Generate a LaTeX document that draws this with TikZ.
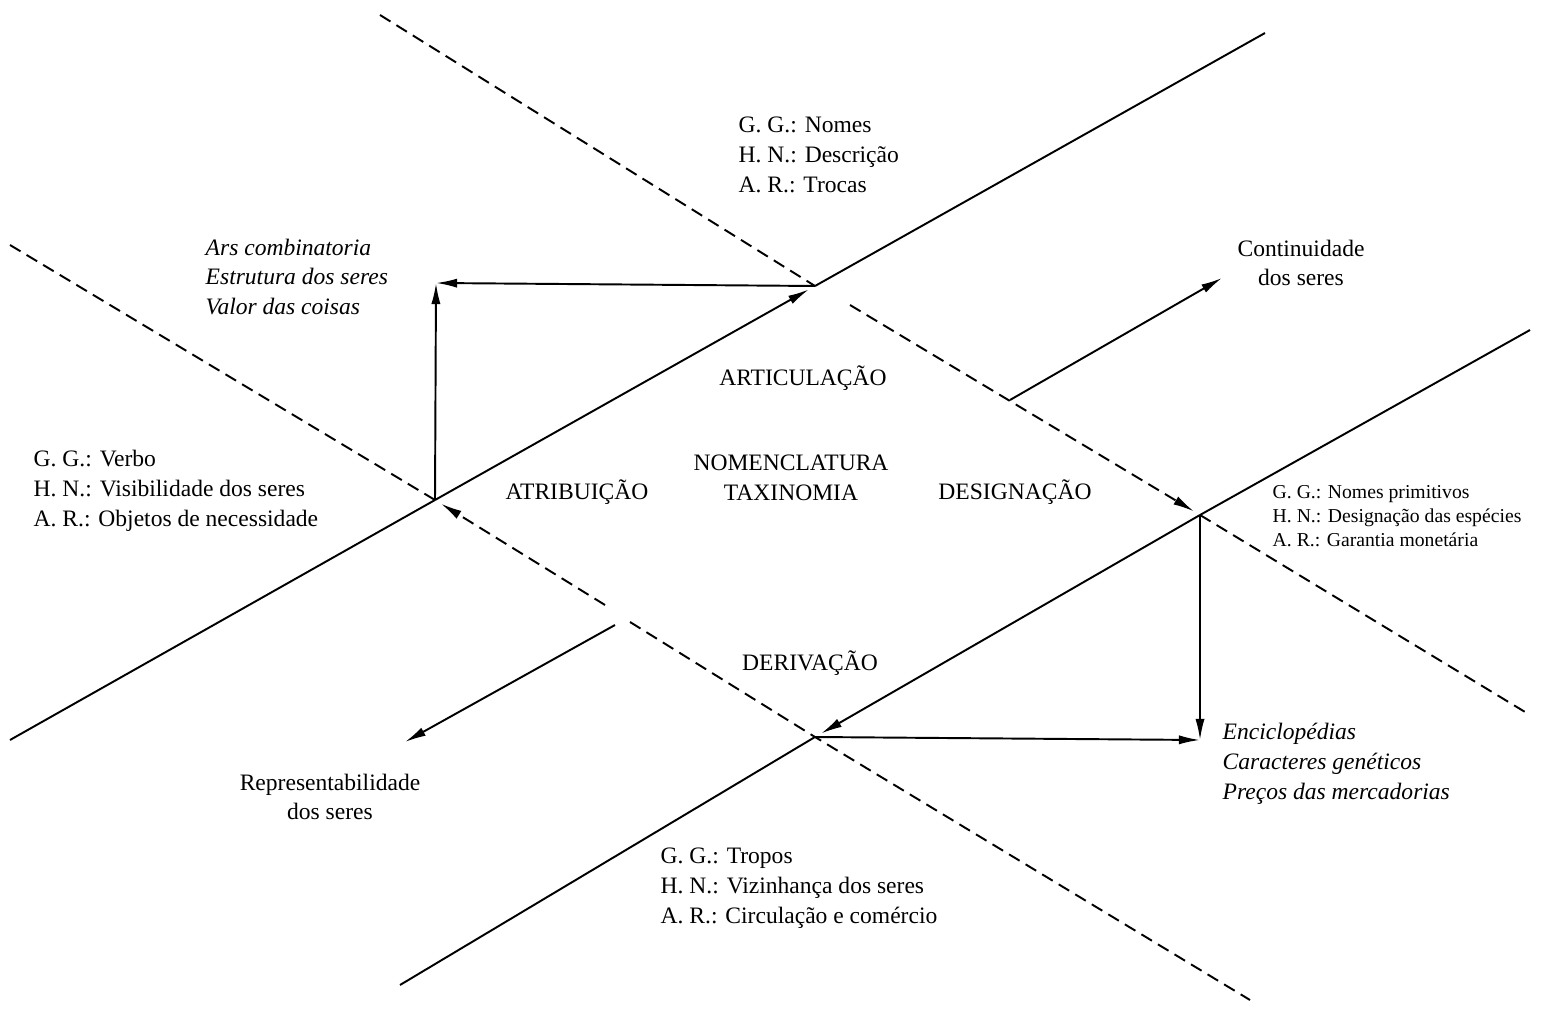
\documentclass[tikz,border=0pt]{standalone}
\usepackage{fontspec}
\setmainfont{Liberation Serif}
\usetikzlibrary{arrows.meta}

\begin{document}
\begin{tikzpicture}[>={Latex[length=6pt,width=2.6pt]},
    linha/.style={line width=0.55pt},
    tracejado/.style={line width=0.55pt,dash pattern=on 3.5pt off 2pt},
    texto/.style={inner sep=0pt,align=left,font=\fontsize{6.7}{8.5}\selectfont},
    miudo/.style={inner sep=0pt,align=left,font=\fontsize{5.6}{6.8}\selectfont},
    centro/.style={inner sep=0pt,align=center,font=\fontsize{6.7}{8.5}\selectfont}]
      \useasboundingbox (0,0) rectangle (15.42,-10.11);
      % the four crossings
      \coordinate (esq) at (4.35,-5.00);
      \coordinate (topo) at (8.15,-2.86);
      \coordinate (dir) at (12.00,-5.15);
      \coordinate (baixo) at (8.15,-7.37);
      \coordinate (cNO) at (4.36,-2.83);
      \coordinate (cSE) at (12.00,-7.40);
      % ends of the long lines
      \coordinate (A-w) at (0.10,-7.40);
      \coordinate (A-e) at (12.65,-0.33);
      \coordinate (B-w) at (4.00,-9.85);
      \coordinate (B-e) at (15.30,-3.30);
      \coordinate (C-n) at (3.80,-0.15);
      \coordinate (C-m) at (8.50,-3.05);
      \coordinate (C-s) at (15.30,-7.15);
      \coordinate (D-w) at (0.10,-2.45);
      \coordinate (D-m) at (6.05,-6.05);
      \coordinate (D-n) at (6.30,-6.22);
      \coordinate (D-s) at (12.50,-10.00);
      \coordinate (contO) at (10.10,-4.00);
      \coordinate (contP) at (12.22,-2.78);
      \coordinate (repO) at (6.15,-6.25);
      \coordinate (repP) at (4.05,-7.42);

      \draw[linha] (A-w) -- (esq);
      \draw[linha,->,shorten >=2pt] (esq) -- (topo);
      \draw[linha] (topo) -- (A-e);
      \draw[linha] (B-w) -- (baixo);
      \draw[linha,->,shorten >=2pt] (dir) -- (baixo);
      \draw[linha] (dir) -- (B-e);
      \draw[tracejado] (C-n) -- (topo);
      \draw[tracejado,->,shorten >=2pt] (C-m) -- (dir);
      \draw[tracejado] (dir) -- (C-s);
      \draw[tracejado] (D-w) -- (esq);
      \draw[tracejado,->,shorten >=2pt] (D-m) -- (esq);
      \draw[tracejado] (D-n) -- (baixo) -- (D-s);

      \draw[linha,->] (esq) -- (cNO);
      \draw[linha,->] (topo) -- (cNO);
      \draw[linha,->] (dir) -- (cSE);
      \draw[linha,->] (baixo) -- (cSE);
      \draw[linha,->] (contO) -- (contP);
      \draw[linha,->] (repO) -- (repP);

      \node[texto,anchor=west] (gg-topo) at (7.38,-1.55) {G. G.: Nomes\\H. N.: Descrição\\A. R.: Trocas};
      \node[texto,anchor=west,font=\fontsize{6.7}{8.5}\selectfont\itshape] (ars) at (2.05,-2.77) {Ars combinatoria\\Estrutura dos seres\\Valor das coisas};
      \node[centro] (cont) at (13.01,-2.63) {Continuidade\\dos seres};
      \node[centro] (artic) at (8.03,-3.78) {ARTICULAÇÃO};
      \node[texto,anchor=west] (gg-esq) at (0.33,-4.91) {G. G.: Verbo\\H. N.: Visibilidade dos seres\\A. R.: Objetos de necessidade};
      \node[centro] (atrib) at (5.77,-4.92) {ATRIBUIÇÃO};
      \node[centro] (nomen) at (7.91,-4.78) {NOMENCLATURA\\TAXINOMIA};
      \node[centro] (desig) at (10.15,-4.92) {DESIGNAÇÃO};
      \node[miudo,anchor=west] (gg-dir) at (12.72,-5.16) {G. G.: Nomes primitivos\\H. N.: Designação das espécies\\A. R.: Garantia monetária};
      \node[centro] (deriv) at (8.10,-6.63) {DERIVAÇÃO};
      \node[texto,anchor=west,font=\fontsize{6.7}{8.5}\selectfont\itshape] (encic) at (12.22,-7.64) {Enciclopédias\\Caracteres genéticos\\Preços das mercadorias};
      \node[centro] (repr) at (3.30,-7.97) {Representabilidade\\dos seres};
      \node[texto,anchor=west] (gg-baixo) at (6.60,-8.88) {G. G.: Tropos\\H. N.: Vizinhança dos seres\\A. R.: Circulação e comércio};
\end{tikzpicture}
\end{document}
